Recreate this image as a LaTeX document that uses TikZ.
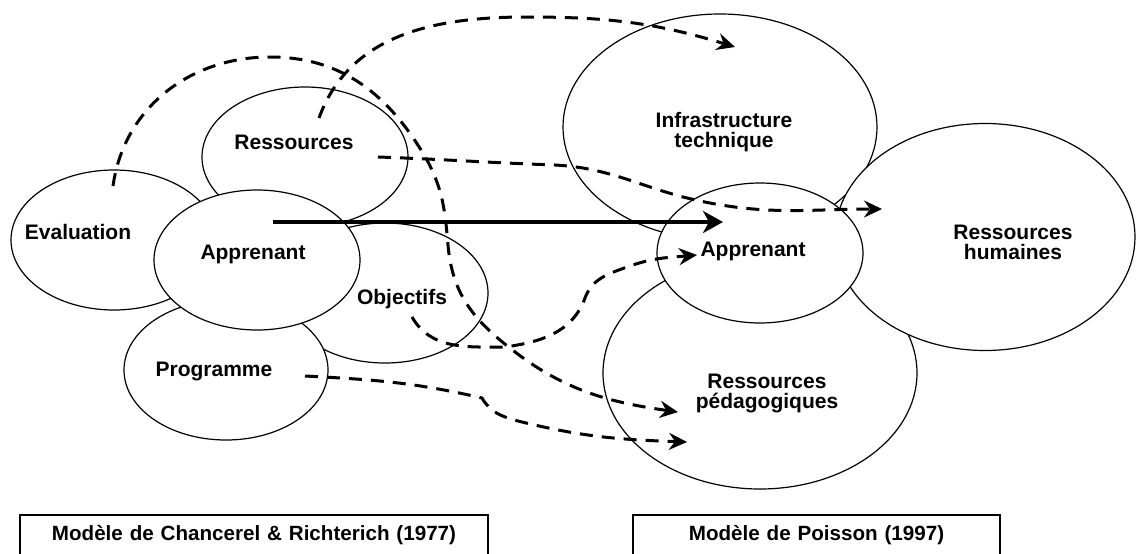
\documentclass[tikz,border=0pt]{standalone}
\usepackage{fontspec}
\setmainfont{Liberation Sans}
\usepackage{tikz}
\usetikzlibrary{arrows.meta,shapes}

\begin{document}
\begin{tikzpicture}[
  zone/.style={draw,ellipse,fill=white,line width=1.2bp,inner sep=0pt},
  lbl/.style={font=\fontsize{21bp}{20bp}\selectfont\bfseries,align=center,inner sep=0pt},
  dashline/.style={line width=3bp,dash pattern=on 13bp off 9bp,-{Stealth[length=18bp,width=17bp,inset=6bp]}},
  modelbox/.style={draw,line width=1.5bp,inner sep=0pt,align=center,text height=25bp,text depth=20bp,font=\fontsize{20.6bp}{22bp}\selectfont\bfseries}
]
\useasboundingbox (0bp,0bp) rectangle (1136bp,-554bp);

\node (EvalZ) at (114bp,-240bp)[zone,minimum width=206bp,minimum height=140bp] {};
\node (RessZ) at (305bp,-157bp)[zone,minimum width=206bp,minimum height=140bp] {};
\node (ObjZ) at (385bp,-293bp)[zone,minimum width=206bp,minimum height=140bp] {};
\node (ProgZ) at (226bp,-370bp)[zone,minimum width=204bp,minimum height=140bp] {};
\node (AppZL) at (257bp,-260bp)[zone,minimum width=206bp,minimum height=140bp] {};

\node (InfraZ) at (720bp,-127bp)[zone,minimum width=314bp,minimum height=226bp] {};
\node (PedaZ) at (760bp,-373bp)[zone,minimum width=314bp,minimum height=232bp] {};
\node (HumZ) at (985bp,-237bp)[zone,minimum width=300bp,minimum height=227bp] {};
\node (AppZR) at (760bp,-253bp)[zone,minimum width=206bp,minimum height=140bp] {};

\node (Eval) at (78bp,-232bp)[lbl] {Evaluation};
\node (Ress) at (294bp,-142bp)[lbl] {Ressources};
\node (AppL) at (253bp,-254bp)[lbl] {Apprenant};
\node (Obj) at (402bp,-299bp)[lbl] {Objectifs};
\node (Prog) at (214bp,-371bp)[lbl] {Programme};
\node (Infra) at (724bp,-132bp)[lbl] {Infrastructure\\technique};
\node (AppR) at (753bp,-251bp)[lbl] {Apprenant};
\node (Hum) at (1013bp,-242bp)[lbl] {Ressources\\humaines};
\node (Peda) at (767bp,-393bp)[lbl] {Ressources\\pédagogiques};

\coordinate (evalout) at (113bp,-186bp);
\coordinate (ressup) at (319bp,-118bp);
\coordinate (ressright) at (378bp,-157bp);
\coordinate (objout) at (412bp,-317bp);
\coordinate (progout) at (305bp,-376bp);
\coordinate (appstart) at (273bp,-222bp);
\coordinate (infratip) at (735bp,-47bp);
\coordinate (humtip) at (882bp,-209bp);
\coordinate (apptip) at (697bp,-255bp);
\coordinate (pedatipA) at (678bp,-412bp);
\coordinate (pedatipB) at (687bp,-442bp);
\coordinate (append) at (723bp,-222bp);

\draw [line width=4bp,-{Stealth[length=20bp,width=22bp,inset=6bp]}] (appstart) -- (append);
\draw [dashline] (evalout) to[out=82,in=180] (270bp,-57bp) to[out=0,in=120] (427bp,-160bp) to[out=-62,in=95] (448bp,-245bp) to[out=-85,in=140] (500bp,-340bp) to[out=-40,in=172] (pedatipA);
\draw [dashline] (ressup) to[out=70,in=180] (527bp,-17bp) to[out=0,in=163] (infratip);
\draw [dashline] (ressright) to[out=-2,in=178] (555bp,-165bp) to[out=-3,in=168] (700bp,-201bp) to[out=-12,in=180] (humtip);
\draw [dashline] (objout) to[out=-60,in=180] (505bp,-347bp) to[out=8,in=-110] (585bp,-298bp) to[out=70,in=200] (627bp,-267bp) to[out=20,in=185] (apptip);
\draw [dashline] (progout) to[out=-3,in=167] (482bp,-398bp) to[out=-60,in=165] (518bp,-421bp) to[out=-14,in=178] (pedatipB);

\node (ChBox) at (254bp,-537.5bp)[modelbox,text width=468bp] {Modèle de Chancerel \& Richterich (1977)};
\node (PoBox) at (816.5bp,-537.5bp)[modelbox,text width=367bp] {Modèle de Poisson (1997)};
\end{tikzpicture}
\end{document}
